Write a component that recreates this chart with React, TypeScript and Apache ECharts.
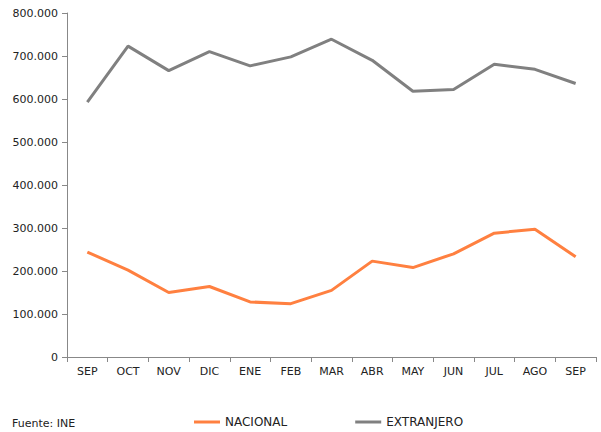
import React, { useEffect, useRef } from "react";
import * as echarts from "echarts";

const categories = ["SEP", "OCT", "NOV", "DIC", "ENE", "FEB", "MAR", "ABR", "MAY", "JUN", "JUL", "AGO", "SEP"];
const nacional = [244000, 202000, 150000, 164000, 128000, 124000, 155000, 223000, 208000, 240000, 288000, 297000, 233000];
const extranjero = [593000, 723000, 666000, 710000, 677000, 698000, 739000, 690000, 618000, 622000, 681000, 669000, 636000];
const seriesNames = ["NACIONAL", "EXTRANJERO"];
const source = "Fuente: INE";

const fmt = (v: number) => (v === 0 ? "0" : String(v).replace(/\B(?=(\d{3})+(?!\d))/g, "."));

export default function App() {
  const ref = useRef<HTMLDivElement>(null);
  useEffect(() => {
    if (!ref.current) return;
    const chart = echarts.init(ref.current, null, { renderer: "svg" });
    const font = "DejaVu Sans, Verdana, sans-serif";
    chart.setOption({
      animation: false,
      textStyle: { fontFamily: font },
      grid: { left: 67, right: 5, top: 13, bottom: 75 },
      legend: {
        data: seriesNames,
        left: 189,
        top: 411,
        icon: "rect",
        itemWidth: 26,
        itemHeight: 3,
        itemGap: 68,
        textStyle: { fontFamily: font, fontSize: 12, color: "#222" },
      },
      graphic: [
        {
          type: "text",
          left: 12,
          top: 418,
          style: { text: source, font: `11px ${font}`, fill: "#222" },
        },
      ],
      xAxis: {
        type: "category",
        data: categories,
        boundaryGap: true,
        axisLine: { lineStyle: { color: "#888", width: 1 } },
        axisTick: { show: true, alignWithLabel: false, length: 5, lineStyle: { color: "#888" } },
        axisLabel: { color: "#222", fontSize: 11, fontFamily: font, margin: 9 },
      },
      yAxis: {
        type: "value",
        min: 0,
        max: 800000,
        interval: 100000,
        splitLine: { show: false },
        axisLine: { show: true, lineStyle: { color: "#888", width: 1 } },
        axisTick: { show: true, length: 5, lineStyle: { color: "#888" } },
        axisLabel: { color: "#222", fontSize: 11, fontFamily: font, margin: 9, formatter: (v: number) => fmt(v) },
      },
      series: [
        {
          name: seriesNames[0],
          type: "line",
          data: nacional,
          symbol: "none",
          lineStyle: { color: "#FF8040", width: 3 },
          itemStyle: { color: "#FF8040" },
        },
        {
          name: seriesNames[1],
          type: "line",
          data: extranjero,
          symbol: "none",
          lineStyle: { color: "#808080", width: 3 },
          itemStyle: { color: "#808080" },
        },
      ],
    });
    return () => chart.dispose();
  }, []);
  return <div ref={ref} style={{ width: 601, height: 432, position: "absolute", left: 0, top: 0 }} />;
}
